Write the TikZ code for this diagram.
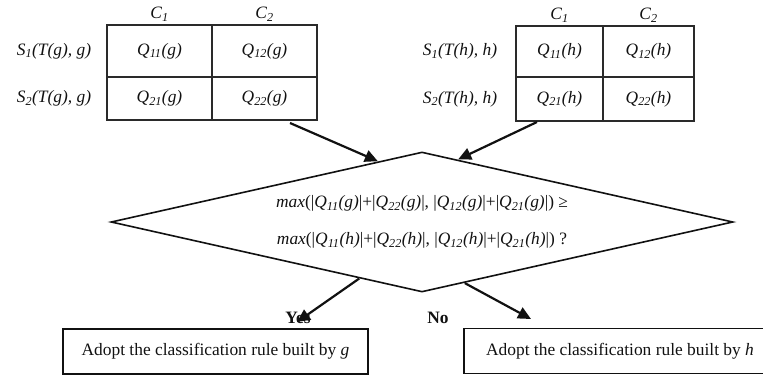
\documentclass[tikz,border=0pt]{standalone}
\usepackage{fontspec}
\setmainfont{Liberation Serif}
\usetikzlibrary{arrows.meta,positioning,shapes.geometric}
\definecolor{QInk}{HTML}{111111}
\definecolor{QLine}{HTML}{2A2A2A}
\newcommand{\qfont}{\fontsize{17.4}{20}\selectfont}
\newcommand{\qcell}[2]{\textit{Q\textsubscript{#1}(#2)}}
\tikzset{
  flow/.style={-{Triangle[length=13pt,width=12pt]},QInk,line width=2.2pt},
  cell/.style={draw=QLine,line width=1.3pt,inner sep=0pt,text=QInk,font=\qfont},
  rowlabel/.style={text=QInk,font=\qfont\itshape,inner sep=0pt},
  colhead/.style={rowlabel},
  decision/.style={diamond,draw=QInk,line width=1.6pt,inner sep=0pt,aspect=4.44,
                   minimum width=622pt,minimum height=140pt,text=QInk,
                   font=\fontsize{17.4}{37}\selectfont,align=center},
  outbox/.style={draw=QInk,line width=1.6pt,inner sep=0pt,minimum height=45pt,
                 text=QInk,font=\qfont},
  answer/.style={text=QInk,font=\qfont\bfseries,inner sep=0pt},
}
\begin{document}
\begin{tikzpicture}[x=1pt,y=-1pt]
  \useasboundingbox (0,0) rectangle (763,376);
  % table for g
  \node[cell,minimum width=105pt,minimum height=52pt] (g11) at (159.5,51) {\qcell{11}{g}};
  \node[cell,minimum width=105pt,minimum height=52pt] (g12) at (264.5,51) {\qcell{12}{g}};
  \node[cell,minimum width=105pt,minimum height=43pt] (g21) at (159.5,98.5) {\qcell{21}{g}};
  \node[cell,minimum width=105pt,minimum height=43pt] (g22) at (264.5,98.5) {\qcell{22}{g}};
  \node[colhead,above=3pt of g11] (gc1) {C\textsubscript{1}};
  \node[colhead,above=3pt of g12] (gc2) {C\textsubscript{2}};
  \node[rowlabel,left=15pt of g11] (gs1) {S\textsubscript{1}(T(g), g)};
  \node[rowlabel,left=15pt of g21] (gs2) {S\textsubscript{2}(T(g), g)};

  % table for h
  \node[cell,minimum width=87pt,minimum height=51pt] (h11) at (559.5,51.5) {\qcell{11}{h}};
  \node[cell,minimum width=91pt,minimum height=51pt] (h12) at (648.5,51.5) {\qcell{12}{h}};
  \node[cell,minimum width=87pt,minimum height=44pt] (h21) at (559.5,99) {\qcell{21}{h}};
  \node[cell,minimum width=91pt,minimum height=44pt] (h22) at (648.5,99) {\qcell{22}{h}};
  \node[colhead,above=3pt of h11] (hc1) {C\textsubscript{1}};
  \node[colhead,above=3pt of h12] (hc2) {C\textsubscript{2}};
  \node[rowlabel,left=18pt of h11] (hs1) {S\textsubscript{1}(T(h), h)};
  \node[rowlabel,left=18pt of h21] (hs2) {S\textsubscript{2}(T(h), h)};

  % decision
  \node[decision] (dec) at (422,222)
    {\textit{max}(|\qcell{11}{g}|+|\qcell{22}{g}|, |\qcell{12}{g}|+|\qcell{21}{g}|) ≥\\
     \textit{max}(|\qcell{11}{h}|+|\qcell{22}{h}|, |\qcell{12}{h}|+|\qcell{21}{h}|) ?};

  \node[answer] (yes) at (298,318) {Yes};
  \node[answer] (no) at (438,318) {No};

  \node[outbox,minimum width=305pt] (ruleg) at (215.5,351.5)
    {Adopt the classification rule built by \textit{g}};
  \node[outbox,minimum width=312pt] (ruleh) at (620,351)
    {Adopt the classification rule built by \textit{h}};

  \coordinate (gout) at (290,123);
  \coordinate (hout) at (537,122);
  \coordinate (yesend) at (297,322);
  \coordinate (noend) at (531,319);

  \draw[flow] (gout) -- (dec.126);
  \draw[flow] (hout) -- (dec.60);
  \draw[flow] (dec.222) -- (yesend);
  \draw[flow] (dec.305) -- (noend);
\end{tikzpicture}
\end{document}
